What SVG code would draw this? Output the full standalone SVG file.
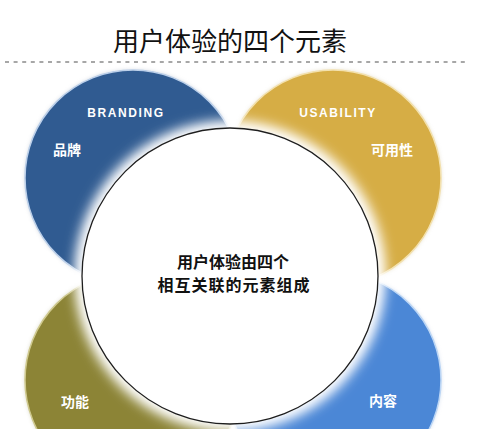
<svg xmlns="http://www.w3.org/2000/svg" width="489" height="429" viewBox="0 0 489 429">
<defs>
<style>
.t{font-family:"Liberation Sans","Noto Sans CJK SC",sans-serif;text-anchor:middle;dominant-baseline:central}
.w{fill:#ffffff;font-weight:bold}
.en{font-size:12px;letter-spacing:1.6px}
.cn{font-size:14px}
.ring{stroke-width:1.5}
</style>
<filter id="glow" x="-30%" y="-30%" width="160%" height="160%">
<feGaussianBlur stdDeviation="7"/>
</filter>
<filter id="shadow" x="-20%" y="-20%" width="140%" height="140%">
<feGaussianBlur stdDeviation="2"/>
</filter>
</defs>
<rect width="489" height="429" fill="#ffffff"/>
<g id="title">
<text class="t" x="230" y="42" font-size="26" fill="#111111">用户体验的四个元素</text>
<line x1="5" y1="62" x2="468" y2="62" stroke="#8a8a8a" stroke-width="1.3" stroke-dasharray="4 4.6"/>
</g>
<g id="branding">
<circle cx="133" cy="178" r="108" fill="#9aa8bb" filter="url(#shadow)" opacity="0.5"/>
<circle cx="133" cy="178" r="108" fill="#305b91" class="ring" stroke="#bcd0ea"/>
</g>
<g id="usability">
<circle cx="333" cy="178" r="108" fill="#c8b88a" filter="url(#shadow)" opacity="0.5"/>
<circle cx="333" cy="178" r="108" fill="#d6ad45" class="ring" stroke="#f3e1ae"/>
</g>
<g id="function">
<circle cx="133" cy="380" r="108" fill="#a8a57a" filter="url(#shadow)" opacity="0.5"/>
<circle cx="133" cy="380" r="108" fill="#8c8436" class="ring" stroke="#cfc98e"/>
</g>
<g id="content">
<circle cx="333" cy="380" r="108" fill="#9ab4d8" filter="url(#shadow)" opacity="0.5"/>
<circle cx="333" cy="380" r="108" fill="#4b87d6" class="ring" stroke="#bcd6f5"/>
</g>
<g id="center">
<circle cx="230" cy="276" r="154" fill="#ffffff" filter="url(#glow)"/>
<circle cx="230" cy="276" r="150" fill="#ffffff" filter="url(#glow)"/>
<circle cx="230" cy="276" r="148" fill="#ffffff" stroke="#1e1e1e" stroke-width="1.3"/>
<text class="t" x="233" y="262" font-size="16" font-weight="bold" fill="#111111">用户体验由四个</text>
<text class="t" x="234" y="285" font-size="16" font-weight="bold" fill="#111111" letter-spacing="1">相互关联的元素组成</text>
</g>
<g id="labels">
<text class="t w en" x="126" y="113">BRANDING</text>
<text class="t w cn" x="67" y="150">品牌</text>
<text class="t w en" x="338" y="113">USABILITY</text>
<text class="t w cn" x="392" y="150">可用性</text>
<text class="t w cn" x="75" y="402">功能</text>
<text class="t w cn" x="383" y="401">内容</text>
</g>
<g id="connectors"/>
</svg>
